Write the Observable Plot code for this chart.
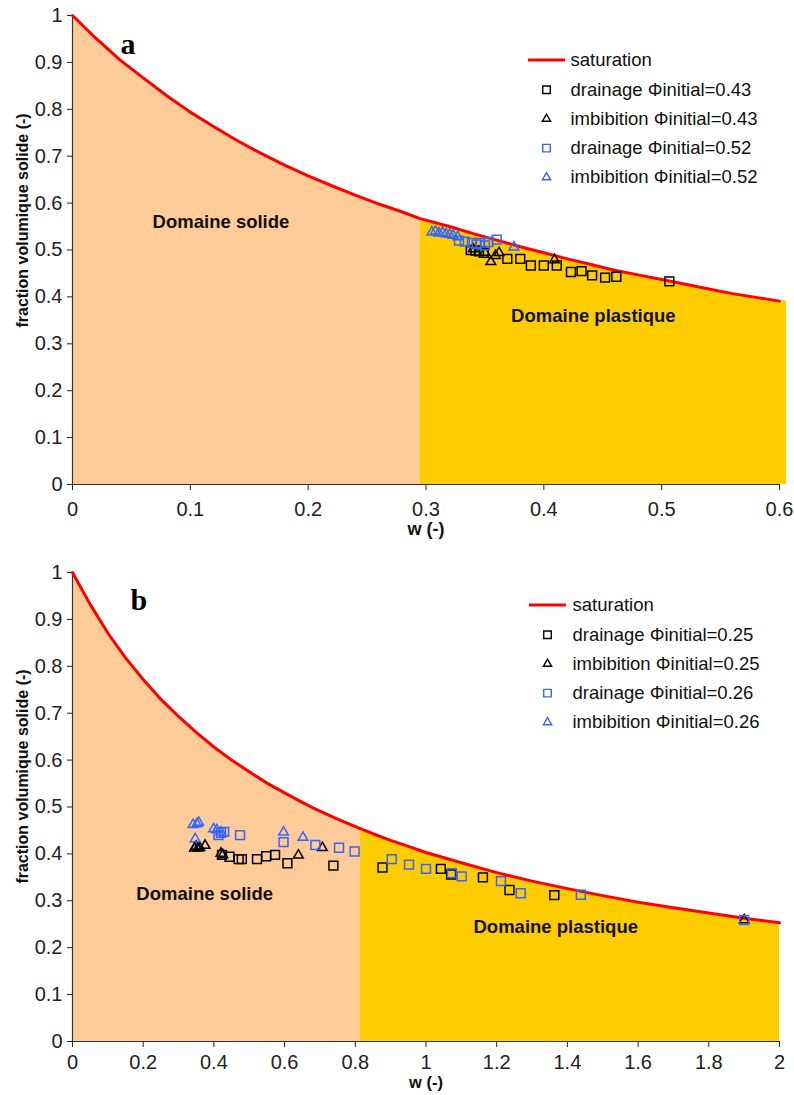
<!DOCTYPE html>
<html><head><meta charset="utf-8">
<script src="https://cdn.jsdelivr.net/npm/d3@7"></script>
<script src="https://cdn.jsdelivr.net/npm/@observablehq/plot@0.6"></script>
<style>
body{margin:0;background:#fff;font-family:"Liberation Sans",Arial,sans-serif}
svg{display:block}
</style>
</head><body>
<div id="a"></div><div id="b"></div>
<script>
// ---------------- Panel a data ----------------
const satA_w   = [0,0.02,0.04,0.06,0.08,0.10,0.12,0.14,0.16,0.18,0.20,0.22,0.24,0.26,0.28,0.295,0.32,0.34,0.36,0.38,0.40,0.42,0.44,0.46,0.48,0.50,0.52,0.54,0.56,0.58,0.60];
const satA_phi = [1.0,0.951,0.906,0.867,0.829,0.794,0.763,0.733,0.706,0.681,0.658,0.637,0.617,0.598,0.581,0.567,0.550,0.535,0.521,0.507,0.494,0.481,0.469,0.457,0.447,0.437,0.427,0.417,0.407,0.399,0.391];
const boundaryA = 0.295;      // limite domaine solide / plastique
const plasticEndA = [0.606, 0.391];
const drainA43 = [[0.338,0.500],[0.342,0.499],[0.345,0.497],[0.349,0.494],[0.369,0.481],[0.380,0.481],[0.389,0.467],[0.400,0.467],[0.411,0.467],[0.423,0.453],[0.432,0.455],[0.441,0.446],[0.452,0.441],[0.4615,0.443],[0.5065,0.433]];
const imbA43   = [[0.340,0.502],[0.350,0.495],[0.355,0.475],[0.359,0.488],[0.362,0.494],[0.409,0.479]];
const drainA52 = [[0.328,0.520],[0.333,0.518],[0.339,0.515],[0.343,0.512],[0.346,0.515],[0.350,0.510],[0.353,0.517],[0.360,0.522]];
const imbA52   = [[0.305,0.538],[0.308,0.540],[0.311,0.536],[0.314,0.537],[0.317,0.534],[0.320,0.533],[0.323,0.531],[0.327,0.528],[0.3746,0.506]];
const legendA  = ["saturation","drainage \u03A6initial=0.43","imbibition \u03A6initial=0.43","drainage \u03A6initial=0.52","imbibition \u03A6initial=0.52"];
const xTicksA  = [0,0.1,0.2,0.3,0.4,0.5,0.6];

// ---------------- Panel b data ----------------
const satB_w   = [0,0.05,0.1,0.15,0.2,0.25,0.3,0.35,0.4,0.45,0.5,0.55,0.6,0.65,0.7,0.75,0.814,0.85,0.9,0.95,1.0,1.1,1.2,1.3,1.4,1.5,1.6,1.7,1.8,1.9,2.0];
const satB_phi = [1.0,0.932,0.871,0.818,0.772,0.730,0.693,0.659,0.628,0.600,0.575,0.551,0.530,0.510,0.491,0.474,0.454,0.443,0.429,0.416,0.403,0.381,0.360,0.342,0.326,0.311,0.297,0.285,0.274,0.263,0.253];
const boundaryB = 0.814;
const plasticEndB = [2.0, 0.253];
const drainB25 = [[0.423,0.398],[0.444,0.394],[0.470,0.389],[0.479,0.389],[0.522,0.389],[0.548,0.395],[0.573,0.398],[0.608,0.380],[0.738,0.375],[0.877,0.371],[1.042,0.368],[1.071,0.356],[1.161,0.350],[1.236,0.323],[1.363,0.312]];
const imbB25   = [[0.345,0.412],[0.350,0.416],[0.355,0.412],[0.360,0.413],[0.375,0.418],[0.420,0.401],[0.425,0.398],[0.639,0.397],[0.707,0.413],[1.900,0.259]];
const drainB26 = [[0.413,0.440],[0.420,0.445],[0.429,0.447],[0.474,0.440],[0.597,0.425],[0.687,0.419],[0.754,0.413],[0.798,0.405],[0.903,0.389],[0.952,0.377],[1.000,0.368],[1.073,0.359],[1.101,0.352],[1.212,0.342],[1.268,0.316],[1.438,0.313],[1.900,0.259]];
const imbB26   = [[0.341,0.462],[0.352,0.464],[0.357,0.467],[0.347,0.432],[0.399,0.453],[0.408,0.451],[0.420,0.446],[0.597,0.446],[0.652,0.435]];
const legendB  = ["saturation","drainage \u03A6initial=0.25","imbibition \u03A6initial=0.25","drainage \u03A6initial=0.26","imbibition \u03A6initial=0.26"];
const xTicksB  = [0,0.2,0.4,0.6,0.8,1,1.2,1.4,1.6,1.8,2];

const yTicks = [0,0.1,0.2,0.3,0.4,0.5,0.6,0.7,0.8,0.9,1];

const ORANGE = "#ffcc99", YELLOW = "#ffcc00", RED = "#ff0000", BLUE = "#3366ff", BLACK = "#000";
const FONT = "Liberation Sans, Arial, sans-serif";

function panel(cfg) {
  const sat = cfg.satW.map((w, i) => ({w, phi: cfg.satPhi[i]}));
  const solid = sat.filter(d => d.w <= cfg.boundary);
  const plastic = sat.filter(d => d.w >= cfg.boundary);
  if (cfg.plasticEnd[0] > plastic[plastic.length - 1].w) plastic.push({w: cfg.plasticEnd[0], phi: cfg.plasticEnd[1]});
  const pts = arr => arr.map(([w, phi]) => ({w, phi}));
  const series = [
    {data: pts(cfg.s1), symbol: "square", color: BLACK},
    {data: pts(cfg.s2), symbol: "triangle", color: BLACK},
    {data: pts(cfg.s3), symbol: "square", color: BLUE},
    {data: pts(cfg.s4), symbol: "triangle", color: BLUE}
  ];
  const rOf = s => s === "square" ? 5 : 3.6;
  const legendMarks = [];
  cfg.legend.forEach((label, i) => {
    legendMarks.push(Plot.text([label], {frameAnchor: "top-left", dx: cfg.legTextDx, dy: cfg.legDy0 + i * cfg.legStep,
      textAnchor: "start", lineAnchor: "middle", fontSize: 18.5, fill: "#111"}));
    if (i > 0) {
      const s = series[i - 1];
      legendMarks.push(Plot.dot([0], {frameAnchor: "top-left", dx: cfg.legSymDx, dy: cfg.legDy0 + i * cfg.legStep,
        symbol: s.symbol, r: rOf(s.symbol) * 0.85, stroke: s.color, strokeWidth: 1.4, fill: "none"}));
    }
  });
  const chart = Plot.plot({
    width: 794, height: cfg.height,
    marginLeft: 72, marginRight: 15, marginTop: cfg.mt, marginBottom: cfg.mb,
    style: {fontFamily: FONT, fontSize: "20px", color: "#222", background: "white"},
    x: {domain: cfg.xDomain, ticks: cfg.xTicks, tickFormat: d => String(d), label: null, tickSize: 6, tickPadding: cfg.xPad},
    y: {domain: [0, 1], ticks: yTicks, tickFormat: d => String(d), label: null, tickSize: 5, tickPadding: 5},
    marks: [
      Plot.areaY(solid, {x: "w", y: "phi", fill: ORANGE}),
      Plot.areaY(plastic, {x: "w", y: "phi", fill: YELLOW}),
      Plot.ruleX([cfg.xDomain[0]], {y1: 0, y2: 1, stroke: "#333", strokeWidth: 1.2}),
      Plot.ruleY([0], {x1: cfg.xDomain[0], x2: cfg.xDomain[1], stroke: "#333", strokeWidth: 1.2}),
      Plot.line(sat, {x: "w", y: "phi", stroke: RED, strokeWidth: 3}),
      ...series.map(s => Plot.dot(s.data, {x: "w", y: "phi", symbol: s.symbol, r: rOf(s.symbol), stroke: s.color, strokeWidth: 1.5, fill: "none"})),
      Plot.text(["Domaine solide"], {x: cfg.solidLabel[0], y: cfg.solidLabel[1], fontWeight: "bold", fontSize: 18.5, fill: "#111"}),
      Plot.text(["Domaine plastique"], {x: cfg.plasticLabel[0], y: cfg.plasticLabel[1], fontWeight: "bold", fontSize: 18.5, fill: "#111"}),
      Plot.text([cfg.tag], {frameAnchor: "top-left", dx: cfg.tagDx, dy: cfg.tagDy, lineAnchor: "bottom", textAnchor: "start",
        fontFamily: "Liberation Serif, Times New Roman, serif", fontWeight: "bold", fontSize: 30, fill: "#000"}),
      Plot.text(["fraction volumique solide (-)"], {x: cfg.xDomain[0], y: cfg.yLabelY, dx: -50, rotate: -90,
        fontWeight: "bold", fontSize: 16, fill: "#111"}),
      Plot.text(["w (-)"], {frameAnchor: "bottom", dy: cfg.xLabelDy, fontWeight: "bold", fontSize: cfg.xLabelSize, fill: "#111"}),
      ...legendMarks
    ]
  });
  // legend line for "saturation"
  d3.select(chart).append("line")
    .attr("x1", cfg.legLine[0]).attr("x2", cfg.legLine[1])
    .attr("y1", cfg.mt + cfg.legDy0).attr("y2", cfg.mt + cfg.legDy0)
    .attr("stroke", RED).attr("stroke-width", 3);
  return chart;
}

document.getElementById("a").append(panel({
  height: 556, mt: 15, mb: 72, xDomain: [0, 0.6], xTicks: xTicksA, xPad: 11,
  satW: satA_w, satPhi: satA_phi, boundary: boundaryA, plasticEnd: plasticEndA,
  s1: drainA43, s2: imbA43, s3: drainA52, s4: imbA52, legend: legendA,
  legTextDx: 498, legSymDx: 474, legDy0: 45, legStep: 29.2, legLine: [528, 565],
  solidLabel: [0.126, 0.559], plasticLabel: [0.442, 0.360],
  tag: "a", tagDx: 48, tagDy: 38, yLabelY: 0.563, xLabelDy: 50, xLabelSize: 18
}));
document.getElementById("b").append(panel({
  height: 539, mt: 16, mb: 54, xDomain: [0, 2], xTicks: xTicksB, xPad: 7,
  satW: satB_w, satPhi: satB_phi, boundary: boundaryB, plasticEnd: plasticEndB,
  s1: drainB25, s2: imbB25, s3: drainB26, s4: imbB26, legend: legendB,
  legTextDx: 500, legSymDx: 475, legDy0: 33, legStep: 29.2, legLine: [529, 566],
  solidLabel: [0.374, 0.315], plasticLabel: [1.367, 0.2435],
  tag: "b", tagDx: 58, tagDy: 37, yLabelY: 0.565, xLabelDy: 46, xLabelSize: 16.5
}));
</script>
</body></html>
